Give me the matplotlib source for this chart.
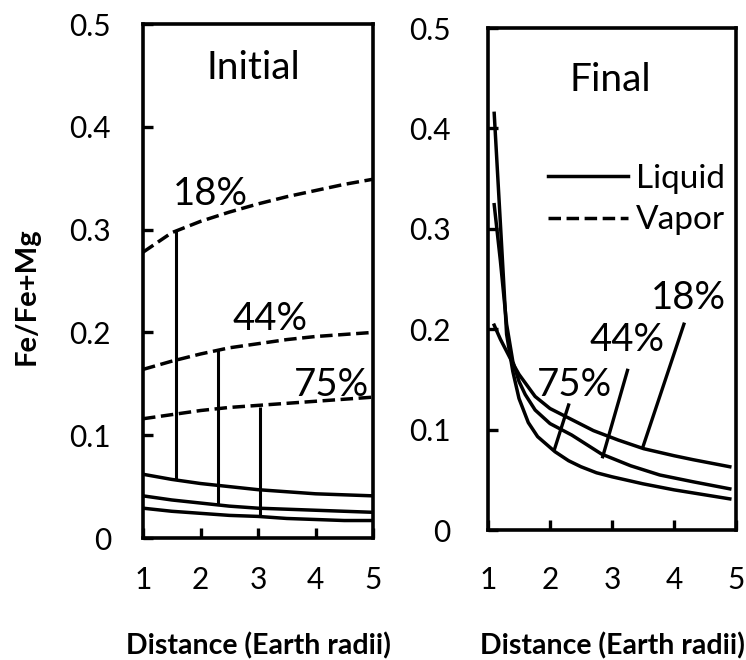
import matplotlib
matplotlib.use('Agg')
import matplotlib.pyplot as plt
from matplotlib.lines import Line2D

plt.rcParams['font.family'] = ['Lato', 'DejaVu Sans']

# ── data: Initial panel ───────────────────────────────────────────────────
x_init = [1.0, 1.5, 2.0, 2.5, 3.0, 3.5, 4.0, 4.5, 5.0]

vap18 = [0.278, 0.297, 0.308, 0.317, 0.325, 0.332, 0.338, 0.344, 0.349]
vap44 = [0.164, 0.172, 0.179, 0.185, 0.189, 0.193, 0.196, 0.198, 0.200]
vap75 = [0.116, 0.120, 0.124, 0.127, 0.129, 0.131, 0.133, 0.135, 0.137]

liq18 = [0.062, 0.057, 0.053, 0.050, 0.047, 0.045, 0.043, 0.042, 0.041]
liq44 = [0.041, 0.037, 0.034, 0.031, 0.029, 0.028, 0.027, 0.026, 0.025]
liq75 = [0.029, 0.026, 0.024, 0.022, 0.021, 0.019, 0.018, 0.017, 0.017]

# tie lines liquid -> vapor
tie_x = [1.58, 2.31, 3.03]
tie_lo = [0.056, 0.033, 0.021]
tie_hi = [0.299, 0.183, 0.127]
init_labels = ['18%', '44%', '75%']
init_lab_x = [2.18, 3.21, 4.28]
init_lab_y = [0.335, 0.213, 0.149]

# ── data: Final panel ─────────────────────────────────────────────────────
fin_a_x = [1.10, 1.20, 1.30, 1.40, 1.50, 1.65, 1.80, 2.08, 2.30, 2.50, 2.75, 3.00, 3.50, 4.00, 4.50, 4.90]
fin_a_y = [0.415, 0.305, 0.195, 0.158, 0.131, 0.107, 0.093, 0.078, 0.069, 0.063, 0.057, 0.053, 0.046, 0.040, 0.035, 0.031]

fin_b_x = [1.10, 1.20, 1.30, 1.40, 1.50, 1.60, 1.76, 2.00, 2.35, 2.83, 3.30, 3.77, 4.31, 4.90]
fin_b_y = [0.324, 0.268, 0.205, 0.168, 0.148, 0.135, 0.1195, 0.106, 0.0946, 0.0757, 0.064, 0.0548, 0.048, 0.041]

fin_c_x = [1.10, 1.20, 1.30, 1.40, 1.50, 1.76, 2.00, 2.35, 2.70, 3.10, 3.51, 4.00, 4.31, 4.90]
fin_c_y = [0.204, 0.190, 0.178, 0.166, 0.155, 0.133, 0.121, 0.110, 0.099, 0.0896, 0.081, 0.074, 0.070, 0.063]

# leader lines (label end -> curve end)
lead_x0 = [4.16, 3.25, 2.30]
lead_y0 = [0.205, 0.159, 0.1245]
lead_x1 = [3.50, 2.85, 2.07]
lead_y1 = [0.083, 0.073, 0.080]
fin_labels = ['18%', '44%', '75%']
fin_lab_x = [4.23, 3.24, 2.40]
fin_lab_y = [0.231, 0.189, 0.144]

xticks = [1, 2, 3, 4, 5]
yticks = [0, 0.1, 0.2, 0.3, 0.4, 0.5]
ytick_labels = ['0', '0.1', '0.2', '0.3', '0.4', '0.5']

# ── figure ────────────────────────────────────────────────────────────────
fig = plt.figure(figsize=(7.46, 6.6), dpi=100)
ax1 = fig.add_axes([143/746, 1 - 538/660, 230/746, 514/660])
ax2 = fig.add_axes([488/746, 1 - 530/660, 248/746, 502/660])

LW = 2.5
DASH = (0, (3.6, 1.6))
TICK_FS = 21.5
ANN_FS = 27.5

def style(ax, xpad, ypad, xlab_y):
    ax.set_xlim(1, 5)
    ax.set_ylim(0, 0.5)
    ax.set_xticks(xticks)
    ax.set_yticks(yticks)
    ax.set_yticklabels(ytick_labels)
    for s in ax.spines.values():
        s.set_linewidth(2.6)
    ax.tick_params(axis='both', direction='in', length=7, width=2.4,
                   labelsize=TICK_FS, colors='black')
    ax.tick_params(axis='x', pad=xpad)
    ax.tick_params(axis='y', pad=ypad)
    ax.set_xlabel('Distance (Earth radii)', fontsize=20.5, fontweight='bold')
    ax.xaxis.label.set_verticalalignment('center')
    ax.xaxis.set_label_coords(0.5, xlab_y)

style(ax1, 20, 23, (538 - 646) / 514)
style(ax2, 26, 27, (530 - 646) / 502)

# Initial
for v in [vap18, vap44, vap75]:
    ax1.plot(x_init, v, color='black', lw=LW, linestyle=DASH)
for l in [liq18, liq44, liq75]:
    ax1.plot(x_init, l, color='black', lw=LW)
ax1.vlines(tie_x, tie_lo, tie_hi, color='black', lw=2.2)
for t, tx, ty in zip(init_labels, init_lab_x, init_lab_y):
    ax1.text(tx, ty, t, fontsize=ANN_FS, ha='center', va='center')
ax1.text(2.92, 0.457, 'Initial', fontsize=28, ha='center', va='center')
ax1.set_ylabel('Fe/Fe+Mg', fontsize=21, fontweight='bold')
ax1.yaxis.label.set_verticalalignment('center')
ax1.yaxis.set_label_coords((27 - 143) / 230, (538 - 296) / 514)

# Final
ax2.plot(fin_a_x, fin_a_y, color='black', lw=LW)
ax2.plot(fin_b_x, fin_b_y, color='black', lw=LW)
ax2.plot(fin_c_x, fin_c_y, color='black', lw=LW)
for x0, y0, x1, y1 in zip(lead_x0, lead_y0, lead_x1, lead_y1):
    ax2.plot([x0, x1], [y0, y1], color='black', lw=2.4)
for t, tx, ty in zip(fin_labels, fin_lab_x, fin_lab_y):
    ax2.text(tx, ty, t, fontsize=ANN_FS, ha='center', va='center')
ax2.text(2.97, 0.448, 'Final', fontsize=28, ha='center', va='center')

handles = [Line2D([], [], color='black', lw=LW),
           Line2D([], [], color='black', lw=LW, linestyle=DASH)]
ax2.legend(handles, ['Liquid', 'Vapor'], loc='upper left',
           bbox_to_anchor=(0.24, 0.73), frameon=False, fontsize=24,
           handlelength=2.4, handletextpad=0.25, labelspacing=0.35,
           borderpad=0, borderaxespad=0)

fig.savefig('out.png', dpi=100)
